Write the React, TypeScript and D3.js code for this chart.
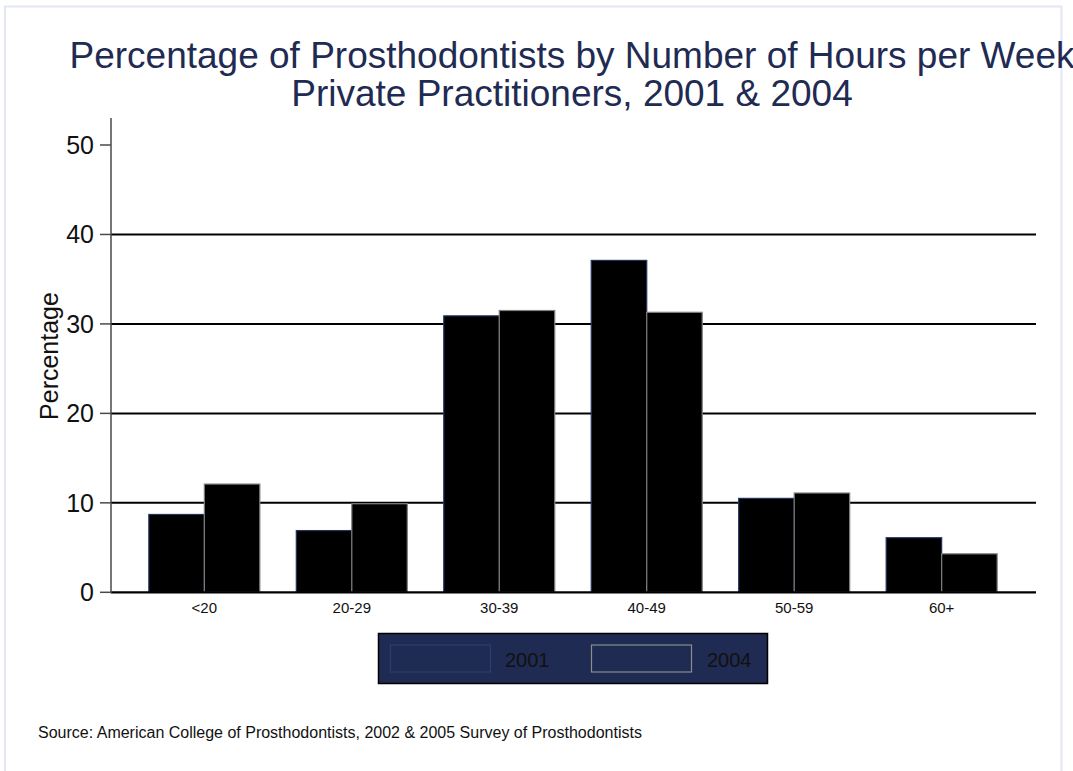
import React from "react";
import * as d3 from "d3";

const categories = ["<20", "20-29", "30-39", "40-49", "50-59", "60+"];
const seriesNames = ["2001", "2004"];
const values2001 = [8.7, 6.9, 30.9, 37.1, 10.5, 6.1];
const values2004 = [12.1, 9.9, 31.5, 31.3, 11.1, 4.3];
const yTicks = [0, 10, 20, 30, 40, 50];
const gridTicks = [10, 20, 30, 40];

const titleLines = [
  "Percentage of Prosthodontists by Number of Hours per Week",
  "Private Practitioners, 2001 & 2004",
];
const yTitle = "Percentage";
const sourceNote =
  "Source: American College of Prosthodontists, 2002 & 2005 Survey of Prosthodontists";

const W = 1073;
const H = 771;
const FONT = "'Liberation Sans', Arial, Helvetica, sans-serif";
const NAVY = "#1f2b52";

export default function App() {
  const plotLeft = 111;
  const plotRight = 1036;
  const y = d3.scaleLinear().domain([0, 50]).range([592.3, 145]);
  const x0 = d3
    .scaleBand<string>()
    .domain(categories)
    .range([110.5, 1035.5])
    .paddingInner(0.2474)
    .paddingOuter(0.26);
  const x1 = d3
    .scaleBand<string>()
    .domain(seriesNames)
    .range([0, x0.bandwidth()])
    .padding(0);
  const series = [
    { name: "2001", values: values2001, stroke: "#22335f" },
    { name: "2004", values: values2004, stroke: "#808080" },
  ];

  return (
    <svg
      width={W}
      height={H}
      style={{ position: "absolute", left: 0, top: 0, background: "#fff" }}
      fontFamily={FONT}
    >
      <rect x={0} y={0} width={W} height={H} fill="#fff" />
      <rect
        x={5}
        y={6.5}
        width={1056.5}
        height={H + 20}
        fill="none"
        stroke="#e3e7f3"
        strokeWidth={2}
      />
      {/* title */}
      <text x={572} y={68} textAnchor="middle" fontSize={37} fill={NAVY}>
        {titleLines[0]}
      </text>
      <text x={572} y={106} textAnchor="middle" fontSize={37} fill={NAVY}>
        {titleLines[1]}
      </text>

      {/* gridlines */}
      {gridTicks.map((t) => (
        <line
          key={"g" + t}
          x1={plotLeft}
          x2={plotRight}
          y1={y(t)}
          y2={y(t)}
          stroke="#000"
          strokeWidth={2}
        />
      ))}

      {/* bars */}
      {series.map((s) =>
        categories.map((c, i) => (
          <rect
            key={s.name + c}
            x={(x0(c) ?? 0) + (x1(s.name) ?? 0)}
            y={y(s.values[i])}
            width={x1.bandwidth()}
            height={y(0) - y(s.values[i])}
            fill="#000"
            stroke={s.stroke}
            strokeWidth={1.2}
          />
        ))
      )}

      {/* x axis */}
      <line
        x1={plotLeft}
        x2={plotRight}
        y1={y(0)}
        y2={y(0)}
        stroke="#000"
        strokeWidth={2.2}
      />
      {/* y axis */}
      <line
        x1={plotLeft}
        x2={plotLeft}
        y1={118}
        y2={y(0) + 1}
        stroke="#4a4a4a"
        strokeWidth={1.5}
      />
      {yTicks.map((t) => (
        <g key={"t" + t}>
          <line
            x1={100}
            x2={plotLeft}
            y1={y(t)}
            y2={y(t)}
            stroke="#4a4a4a"
            strokeWidth={1.5}
          />
          <text
            x={94}
            y={y(t)}
            dy="0.36em"
            textAnchor="end"
            fontSize={25}
            fill="#111"
          >
            {t}
          </text>
        </g>
      ))}
      <text
        transform={`translate(58,356) rotate(-90)`}
        textAnchor="middle"
        fontSize={25}
        fill="#111"
      >
        {yTitle}
      </text>

      {/* x labels */}
      {categories.map((c) => (
        <text
          key={"xl" + c}
          x={(x0(c) ?? 0) + x0.bandwidth() / 2}
          y={613}
          textAnchor="middle"
          fontSize={15}
          fill="#111"
        >
          {c}
        </text>
      ))}

      {/* legend */}
      <rect
        x={378.5}
        y={633.5}
        width={389}
        height={50}
        fill={NAVY}
        stroke="#000"
        strokeWidth={1.5}
      />
      <rect
        x={390.5}
        y={645}
        width={100}
        height={27}
        fill="none"
        stroke="#2b3f6e"
        strokeWidth={1.2}
      />
      <text x={505} y={667} fontSize={20} fill="#111">
        {seriesNames[0]}
      </text>
      <rect
        x={591.5}
        y={645}
        width={100}
        height={27}
        fill="none"
        stroke="#8c8c8c"
        strokeWidth={1.2}
      />
      <text x={707} y={667} fontSize={20} fill="#111">
        {seriesNames[1]}
      </text>

      {/* source */}
      <text x={38} y={738} fontSize={16} fill="#111">
        {sourceNote}
      </text>
    </svg>
  );
}
